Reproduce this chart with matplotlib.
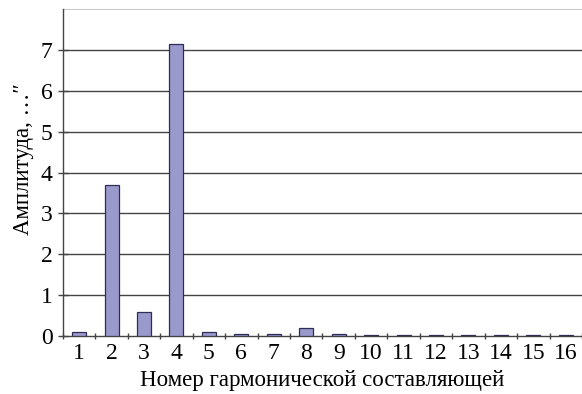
import numpy as np
import matplotlib.pyplot as plt

# амплитуды гармонических составляющих
harmonics = list(range(1, 17))
amplitude = [0.10, 3.70, 0.60, 7.15, 0.10, 0.04, 0.04, 0.19,
             0.04, 0.02, 0.02, 0.02, 0.02, 0.02, 0.02, 0.02]
y_ticks = [0, 1, 2, 3, 4, 5, 6, 7]

plt.rcParams['font.family'] = ['Liberation Serif', 'DejaVu Serif']

fig = plt.figure(figsize=(5.82, 3.94), dpi=100)
ax = fig.add_axes([0.108, 0.147, 0.892, 0.830])

x = np.array(harmonics)
ax.bar(x, amplitude, width=0.43, color='#9999cc', edgecolor='#2e2e55', linewidth=0.9, zorder=3)

ax.set_xlim(0.5, 16.5)
ax.set_ylim(0, 8)

# сетка
for v in y_ticks[1:]:
    ax.axhline(v, color='#444444', linewidth=1.0, zorder=1)
ax.axhline(8, color='#bbbbbb', linewidth=1.2, zorder=1)

ax.set_yticks(y_ticks)
ax.set_xticks(x)
ax.set_xticklabels([str(h) for h in harmonics])
ax.set_xticks(np.arange(0.5, 16.6, 1), minor=True)

ax.tick_params(axis='y', direction='inout', length=7, width=1, color='#444444', labelsize=17, pad=4)
ax.tick_params(axis='x', which='major', length=0, labelsize=17, pad=5)
ax.tick_params(axis='x', which='minor', direction='inout', length=5, width=1, color='#444444')

for s in ['top', 'right']:
    ax.spines[s].set_visible(False)
for s in ['left', 'bottom']:
    ax.spines[s].set_color('#444444')
    ax.spines[s].set_linewidth(1.0)

ax.set_xlabel('Номер гармонической составляющей', fontsize=16.5, labelpad=4)
ax.set_ylabel('Амплитуда, …″', fontsize=16.5)
ax.yaxis.set_label_coords(-0.055, 0.54)

plt.savefig('out.png', dpi=100)
